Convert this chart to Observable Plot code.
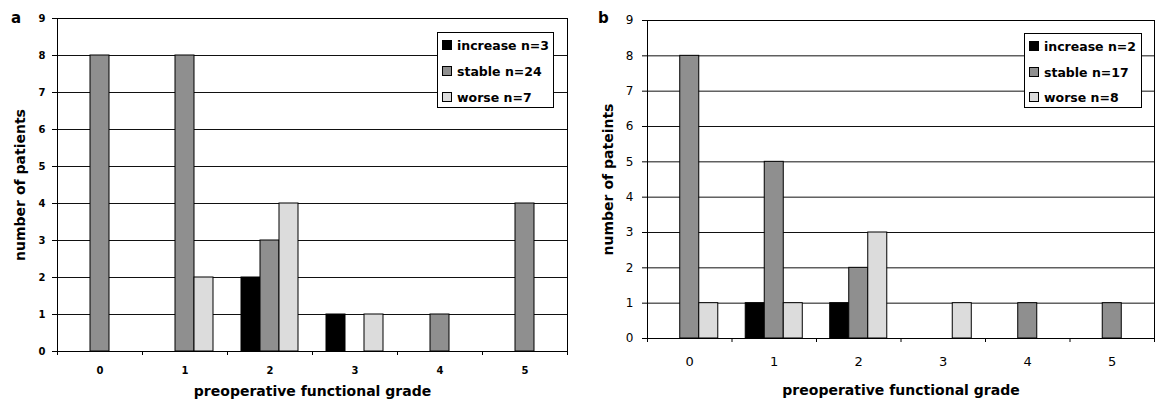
<!DOCTYPE html>
<html><head><meta charset="utf-8">
<script src="https://cdn.jsdelivr.net/npm/d3@7"></script>
<script src="https://cdn.jsdelivr.net/npm/@observablehq/plot@0.6"></script>
<style>
body{margin:0;background:#fff;}
#wrap{position:relative;width:1166px;height:401px;overflow:hidden;font-family:"DejaVu Sans",sans-serif;}
.panel{position:absolute;top:0;}
.legend{position:absolute;background:#fff;border:1px solid #000;box-sizing:border-box;font:bold 12.5px "DejaVu Sans",sans-serif;color:#000;}
.legend .row{position:absolute;left:4px;height:16px;display:flex;align-items:center;white-space:nowrap;}
.legend .sw{width:10px;height:10px;border:1px solid #000;box-sizing:border-box;margin-right:5px;}
.letter{position:absolute;font:bold 15px "DejaVu Sans",sans-serif;line-height:15px;}
</style></head>
<body><div id="wrap"></div>
<script>
const grades = [0, 1, 2, 3, 4, 5];
const seriesNames = ["increase", "stable", "worse"];
const seriesColors = ["#000000", "#8f8f8f", "#dcdcdc"];
const yTicks = [0, 1, 2, 3, 4, 5, 6, 7, 8, 9];

const aIncrease = [0, 0, 2, 1, 0, 0];
const aStable   = [8, 8, 3, 0, 1, 4];
const aWorse    = [0, 2, 4, 1, 0, 0];
const aN = [3, 24, 7];

const bIncrease = [0, 1, 1, 0, 0, 0];
const bStable   = [8, 5, 2, 0, 1, 1];
const bWorse    = [1, 1, 3, 1, 0, 0];
const bN = [2, 17, 8];

const wrap = document.getElementById("wrap");

function makePanel(cfg) {
  const seriesVals = [cfg.inc, cfg.sta, cfg.wor];
  const rows = [];
  seriesVals.forEach((vals, i) => vals.forEach((v, j) => {
    if (v > 0) rows.push({grade: grades[j], i, series: seriesNames[i], value: v});
  }));
  const bw = cfg.barW;
  const bounds = grades.map(g => g - 0.5).concat([grades[grades.length - 1] + 0.5]);
  const svg = Plot.plot({
    width: 583, height: 401,
    marginLeft: cfg.mL, marginRight: cfg.mR, marginTop: cfg.mT, marginBottom: cfg.mB,
    style: {fontFamily: "'DejaVu Sans', sans-serif", color: "#000", background: "#fff", overflow: "visible"},
    x: {type: "linear", domain: [bounds[0], bounds[bounds.length - 1]]},
    y: {domain: [0, 9]},
    color: {domain: seriesNames, range: seriesColors},
    marks: [
      Plot.ruleY(yTicks.slice(1), {stroke: "#111", strokeWidth: 1}),
      Plot.rectY(rows, {
        x1: d => d.grade + (d.i - 1.5) * bw,
        x2: d => d.grade + (d.i - 0.5) * bw,
        y1: 0, y2: "value", fill: "series", stroke: "#000", strokeWidth: 1
      }),
      Plot.frame({stroke: "#000"}),
      Plot.axisY({ticks: yTicks, tickSize: 5, tickPadding: cfg.yPad, tickFormat: d => String(d), label: null, fontSize: cfg.yTickFont, fontWeight: cfg.tickWeight}),
      Plot.axisY({ticks: [], tickSize: 0, label: cfg.yLabel, labelAnchor: "center", labelArrow: "none", labelOffset: cfg.yLabOff, fontSize: 14, fontWeight: "bold"}),
      Plot.axisX({ticks: grades, tickSize: 0, tickPadding: cfg.xPad, tickFormat: d => String(d), label: null, fontSize: cfg.tickFont, fontWeight: cfg.tickWeight}),
      Plot.axisX({ticks: bounds, tickSize: 4, tickFormat: () => "", label: null}),
      Plot.axisX({ticks: [], tickSize: 0, label: "preoperative functional grade", labelAnchor: "center", labelArrow: "none", labelOffset: cfg.xLabOff, fontSize: 14, fontWeight: "bold"})
    ]
  });
  svg.classList.add("panel");
  svg.style.left = cfg.left + "px";
  wrap.appendChild(svg);

  const lg = document.createElement("div");
  lg.className = "legend";
  Object.assign(lg.style, {left: cfg.lg.x + "px", top: cfg.lg.y + "px", width: cfg.lg.w + "px", height: cfg.lg.h + "px"});
  seriesNames.forEach((name, i) => {
    const r = document.createElement("div");
    r.className = "row";
    r.style.top = (cfg.lg.rows[i] - 8) + "px";
    const sw = document.createElement("div");
    sw.className = "sw";
    sw.style.background = seriesColors[i];
    const t = document.createElement("span");
    t.textContent = `${name} n=${cfg.n[i]}`;
    r.appendChild(sw); r.appendChild(t);
    lg.appendChild(r);
  });
  wrap.appendChild(lg);

  const L = document.createElement("div");
  L.className = "letter";
  L.textContent = cfg.letter;
  L.style.left = cfg.letterX + "px";
  L.style.top = "11px";
  wrap.appendChild(L);
}

makePanel({
  left: 0, mL: 57, mR: 16, mT: 18, mB: 50,
  inc: aIncrease, sta: aStable, wor: aWorse, n: aN,
  barW: 0.2235, tickFont: 10, yTickFont: 10, tickWeight: "bold",
  yPad: 7, xPad: 15, yLabel: "number of patients", yLabOff: 42, xLabOff: 44,
  lg: {x: 437, y: 32, w: 117, h: 76, rows: [12, 38, 64]},
  letter: "a", letterX: 11
});

makePanel({
  left: 583, mL: 64, mR: 12, mT: 20, mB: 63,
  inc: bIncrease, sta: bStable, wor: bWorse, n: bN,
  barW: 0.225, tickFont: 13, yTickFont: 12, tickWeight: "normal",
  yPad: 9, xPad: 18, yLabel: "number of pateints", yLabOff: 44, xLabOff: 56,
  lg: {x: 1024, y: 33, w: 118, h: 75, rows: [12, 38, 63]},
  letter: "b", letterX: 598
});
</script>
</body></html>
